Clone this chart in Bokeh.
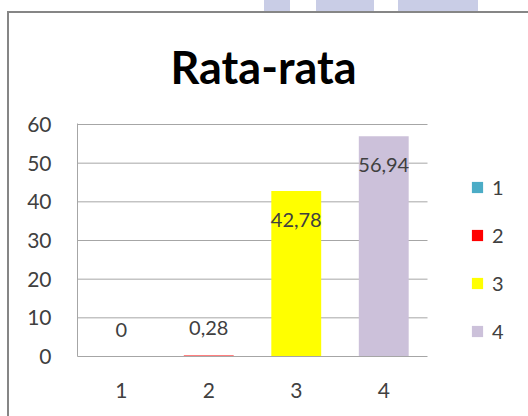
from bokeh.plotting import figure
from bokeh.models import (ColumnDataSource, Range1d, Legend, LegendItem, Title,
                          SingleIntervalTicker, FixedTicker)
from bokeh.core.properties import value
from bokeh.embed import file_html
from bokeh.resources import INLINE

# ---- data ----
categories = ["1", "2", "3", "4"]
values = [0, 0.28, 42.78, 56.94]
colors = ["#4bacc6", "#ff0000", "#ffff00", "#ccc1da"]
value_labels = [("%g" % v).replace(".", ",") for v in values]
label_offsets = [-27, -27, 29, 29]   # px, Excel-style label placement
y_ticks = [10, 20, 30, 40, 50, 60]
title_text = "Rata-rata"

FONT = "Lato"
TXT = "#404040"
GRID = "#a6a6a6"
FRAME_LINE = "#868686"
WATERMARK = "#c9cde6"

W, H = 528, 416
FL, FT, FB = 77, 123, 356   # plot frame edges in page pixels
CAT_PX = 87.5               # pixels per category slot


def block(color, x, y, w, h):
    return (f"linear-gradient({color},{color}) {x}px {y}px / "
            f"{w} {h} no-repeat")


# page decoration painted behind the (transparent) canvas border area:
# the chart's frame line (left + top) and the faint watermark above it
bg = ", ".join([
    block(FRAME_LINE, 7, 11, "2px", "100%"),
    block(FRAME_LINE, 7, 11, "100%", "2px"),
    block(WATERMARK, 264, 0, "26px", "11px"),
    block(WATERMARK, 316, 0, "58px", "11px"),
    block(WATERMARK, 398, 0, "80px", "11px"),
]) + ", white"

xpos = [i + 0.5 for i in range(len(categories))]
src = ColumnDataSource(dict(x=xpos, cat=categories, val=values, color=colors,
                            lab=value_labels, off=label_offsets))

p = figure(width=W, height=H, output_backend="svg", toolbar_location=None,
           x_range=Range1d(0, (W - FL) / CAT_PX),
           y_range=Range1d(0, 60.26),
           min_border_left=FL, min_border_right=0,
           min_border_top=FT, min_border_bottom=H - FB)
p.styles = {"background": bg}
p.outline_line_color = None
p.background_fill_color = "white"
p.border_fill_color = None

p.title = Title(text=title_text, align="left", offset=93, standoff=59,
                text_font=FONT, text_font_style="bold", text_font_size="45px",
                text_color="black")

# horizontal gridlines only across the category area
p.segment(x0=0, x1=len(categories), y0=y_ticks, y1=y_ticks,
          line_color=GRID, line_width=1)

r = p.vbar(x="x", top="val", width=0.57, color="color", line_color=None,
           source=src)

p.text(x="x", y="val", text="lab", y_offset="off", source=src,
       text_align="center", text_baseline="middle",
       text_font=value(FONT), text_font_size="20px", text_color=TXT)

# axes
p.yaxis.ticker = SingleIntervalTicker(interval=10)
p.yaxis.axis_line_color = GRID
p.yaxis.major_tick_line_color = None
p.yaxis.minor_tick_line_color = None
p.yaxis.major_label_standoff = 20
p.yaxis.major_label_text_font = FONT
p.yaxis.major_label_text_font_size = "21px"
p.yaxis.major_label_text_color = TXT

p.xaxis.ticker = FixedTicker(ticks=xpos)
p.xaxis.major_label_overrides = {x: c for x, c in zip(xpos, categories)}
p.xaxis.bounds = (0, len(categories))
p.xaxis.axis_line_color = GRID
p.xaxis.major_tick_line_color = None
p.xaxis.minor_tick_line_color = None
p.xaxis.major_label_standoff = 20
p.xaxis.major_label_text_font = FONT
p.xaxis.major_label_text_font_size = "21px"
p.xaxis.major_label_text_color = TXT

p.xgrid.grid_line_color = None
p.ygrid.grid_line_color = None

# legend inside the frame, right of the bars
items = [LegendItem(label=c, renderers=[r], index=i) for i, c in enumerate(categories)]
leg = Legend(items=items, location=(393, 13), padding=0, margin=0,
             border_line_color=None, background_fill_alpha=0,
             glyph_width=14, glyph_height=14, label_height=20, spacing=24,
             label_standoff=8, label_text_font=FONT, label_text_font_size="20px",
             label_text_color=TXT)
p.add_layout(leg)

open("out.html", "w").write(file_html(p, INLINE))
